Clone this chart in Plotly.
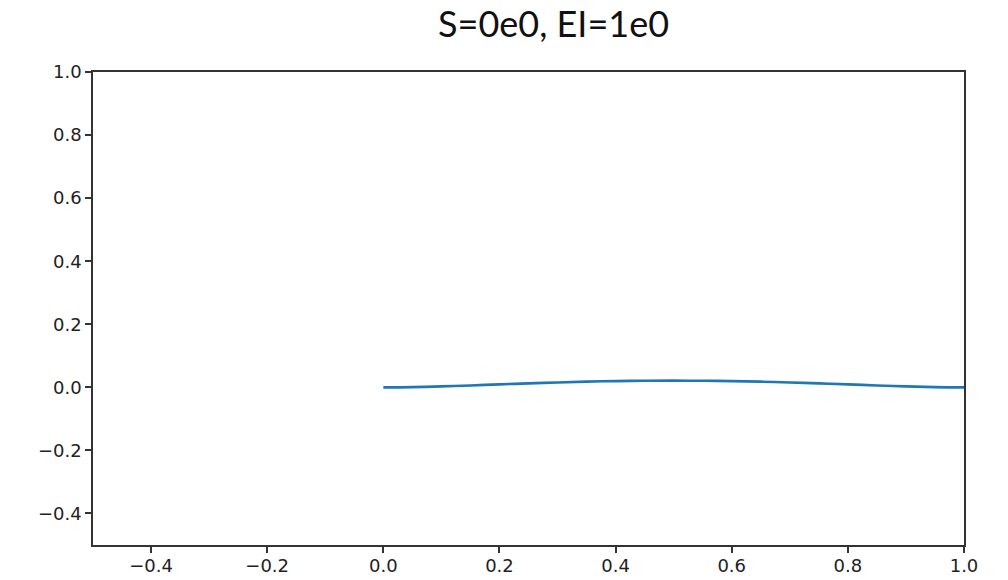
import plotly.graph_objects as go

# Data
x_vals = [0.0, 0.05, 0.1, 0.15, 0.2, 0.25, 0.3, 0.35, 0.4, 0.45, 0.5,
          0.55, 0.6, 0.65, 0.7, 0.75, 0.8, 0.85, 0.9, 0.95, 1.0]
y_vals = [0.0, 0.0008, 0.003, 0.006, 0.0095, 0.0125, 0.0155, 0.018, 0.0198, 0.0208, 0.0212,
          0.0208, 0.0198, 0.018, 0.0155, 0.0125, 0.0095, 0.006, 0.003, 0.0008, 0.0]
x_ticks = [-0.4, -0.2, 0.0, 0.2, 0.4, 0.6, 0.8, 1.0]
y_ticks = [-0.4, -0.2, 0.0, 0.2, 0.4, 0.6, 0.8, 1.0]
title_text = "S=0e0, EI=1e0"

def fmt(v):
    s = f"{v:.1f}"
    return s.replace("-", "\u2212")

fig = go.Figure()
fig.add_trace(go.Scatter(x=x_vals, y=y_vals, mode="lines",
                         line=dict(color="#1f77b4", width=2.6, shape="spline"),
                         showlegend=False, hoverinfo="skip"))

axis_common = dict(
    showgrid=False, zeroline=False, showline=True, mirror=True,
    linecolor="#333333", linewidth=1.6, automargin=False,
    ticks="outside", ticklen=6, tickwidth=1.6, tickcolor="#333333",
    tickfont=dict(family="DejaVu Sans", size=18, color="#222222"),
)

fig.update_xaxes(range=[-0.5, 1.0], tickvals=x_ticks,
                 ticktext=[fmt(v) for v in x_ticks], ticklabelstandoff=-2,
                 **axis_common)
fig.update_yaxes(range=[-0.5, 1.0], tickvals=y_ticks,
                 ticktext=[fmt(v) for v in y_ticks], **axis_common)

fig.add_annotation(text=title_text, xref="paper", yref="paper",
                   x=(553 - 93) / (964 - 93), y=1 + (72 - 23) / (545 - 72),
                   xanchor="center", yanchor="middle", showarrow=False,
                   font=dict(family="Lato", size=36, color="#111111"))

fig.update_layout(
    width=1008, height=580,
    margin=dict(l=93, r=44, t=72, b=35, autoexpand=False),
    paper_bgcolor="white", plot_bgcolor="white",
)

fig.write_html("out.html")
